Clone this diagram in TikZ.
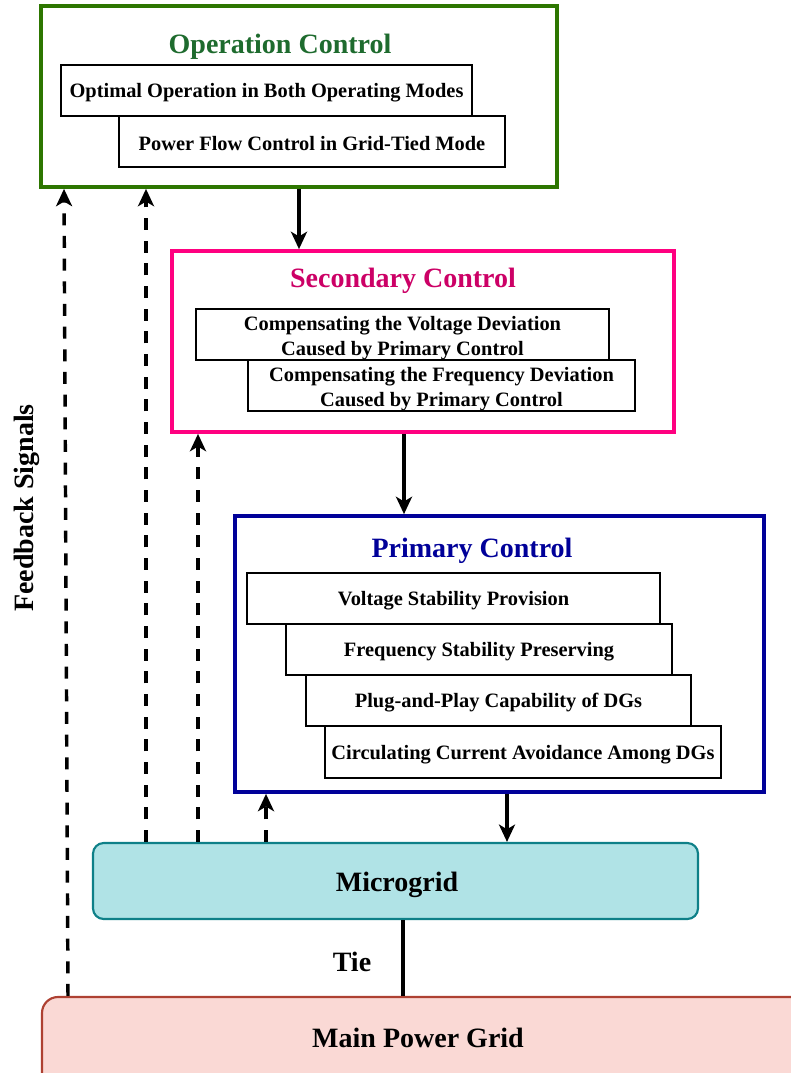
\documentclass[tikz,border=0pt]{standalone}
\usepackage{fontspec}
\setmainfont{Liberation Serif}
\usetikzlibrary{arrows.meta}
\definecolor{opgreen}{HTML}{2D7600}
\definecolor{optitle}{HTML}{1E6B2E}
\definecolor{secpink}{HTML}{FF0080}
\definecolor{sectitle}{HTML}{CC0066}
\definecolor{primblue}{HTML}{000099}
\definecolor{mgfill}{HTML}{B0E3E6}
\definecolor{mgdraw}{HTML}{0E8088}
\definecolor{mainfill}{HTML}{FAD9D5}
\definecolor{maindraw}{HTML}{AE4132}
\def\px{0.75pt}
\begin{document}
\begin{tikzpicture}[x=0.75pt,y=-0.75pt,
  outer/.style={draw, line width=2.8pt, fill=white, inner sep=0pt},
  inbox/.style={draw=black, line width=1.6pt, fill=white, inner sep=0pt},
  intext/.style={inner sep=0pt, align=center, font=\bfseries\fontsize{15.3}{18.8}\selectfont},
  ttl/.style={font=\bfseries\fontsize{21}{24}\selectfont, inner sep=0pt},
  conn/.style={line width=2.6pt, -{Stealth[length=13pt,width=12pt,inset=3.5pt]}},
  fb/.style={line width=2.6pt, dash pattern=on 9pt off 8pt, -{Stealth[length=13pt,width=12pt,inset=3.5pt]}},
  plain/.style={line width=2.6pt}]
\path[use as bounding box] (0,0) rectangle (791,1073);
\clip (0,0) rectangle (791,1073);

% Operation control
\node[outer, draw=opgreen, minimum width=516*\px, minimum height=181*\px] (op) at (299,96.5) {};
\node[ttl, text=optitle] (opt) at (280,47) {Operation Control};
\node[inbox, minimum width=411*\px, minimum height=51*\px] (op1) at (266.5,90.5) {};
\node[intext] (op1t) at ([yshift=-1.8pt]op1.center) {Optimal Operation in Both Operating Modes};
\node[inbox, minimum width=386*\px, minimum height=51*\px] (op2) at (312,141.5) {};
\node[intext] (op2t) at ([yshift=-1.8pt]op2.center) {Power Flow Control in Grid-Tied Mode};

% Secondary control
\node[outer, draw=secpink, minimum width=502*\px, minimum height=181*\px] (sec) at (423,341.5) {};
\node[ttl, text=sectitle] (sect) at (403,281) {Secondary Control};
\node[inbox, minimum width=413*\px, minimum height=51*\px] (sec1) at (402.5,334.5) {};
\node[intext] (sec1t) at ([yshift=-2.5pt]sec1.center) {Compensating the Voltage Deviation\\Caused by Primary Control};
\node[inbox, minimum width=387*\px, minimum height=51*\px] (sec2) at (441.5,385.5) {};
\node[intext] (sec2t) at ([yshift=-2.5pt]sec2.center) {Compensating the Frequency Deviation\\Caused by Primary Control};

% Primary control
\node[outer, draw=primblue, minimum width=529*\px, minimum height=276*\px] (prim) at (499.5,654) {};
\node[ttl, text=primblue] (primt) at (472,551) {Primary Control};
\node[inbox, minimum width=413*\px, minimum height=51*\px] (p1) at (453.5,598.5) {};
\node[intext] (p1t) at ([yshift=-1.8pt]p1.center) {Voltage Stability Provision};
\node[inbox, minimum width=386*\px, minimum height=51*\px] (p2) at (479,649.5) {};
\node[intext] (p2t) at ([yshift=-1.8pt]p2.center) {Frequency Stability Preserving};
\node[inbox, minimum width=385*\px, minimum height=51*\px] (p3) at (498.5,700.5) {};
\node[intext] (p3t) at ([yshift=-1.8pt]p3.center) {Plug-and-Play Capability of DGs};
\node[inbox, minimum width=396*\px, minimum height=52*\px] (p4) at (523,752) {};
\node[intext] (p4t) at ([yshift=-1.8pt]p4.center) {Circulating Current Avoidance Among DGs};

% Microgrid and main grid
\node[draw=mgdraw, fill=mgfill, line width=1.6pt, rounded corners=8pt, minimum width=605*\px, minimum height=76*\px] (mg) at (395.5,881) {};
\node[ttl] (mgt) at (397,885) {Microgrid};
\node[draw=maindraw, fill=mainfill, line width=1.6pt, rounded corners=12pt, minimum width=788*\px, minimum height=113*\px] (main) at (436,1053.5) {};
\node[ttl] (maint) at (418,1038) {Main Power Grid};

% Downward control arrows
\draw[conn] (op.south -| 299,0) -- (sec.north -| 299,0);
\draw[conn] (sec.south -| 404,0) -- (prim.north -| 404,0);
\draw[conn] (prim.south -| 507,0) -- (mg.north -| 507,0);

% Tie
\draw[plain] (mg.south -| 403,0) -- (main.north -| 403,0);
\node[ttl] (tie) at (352,962) {Tie};

% Feedback signals
\draw[fb] (main.north -| 68,0) -- (op.south -| 64,0);
\draw[fb] (mg.north -| 146,0) -- (op.south -| 146,0);
\draw[fb] (mg.north -| 198,0) -- (sec.south -| 198,0);
\draw[fb] (mg.north -| 266,0) -- (prim.south -| 266,0);
\node[ttl, rotate=90] (fbt) at (27,508) {Feedback Signals};
\end{tikzpicture}
\end{document}
